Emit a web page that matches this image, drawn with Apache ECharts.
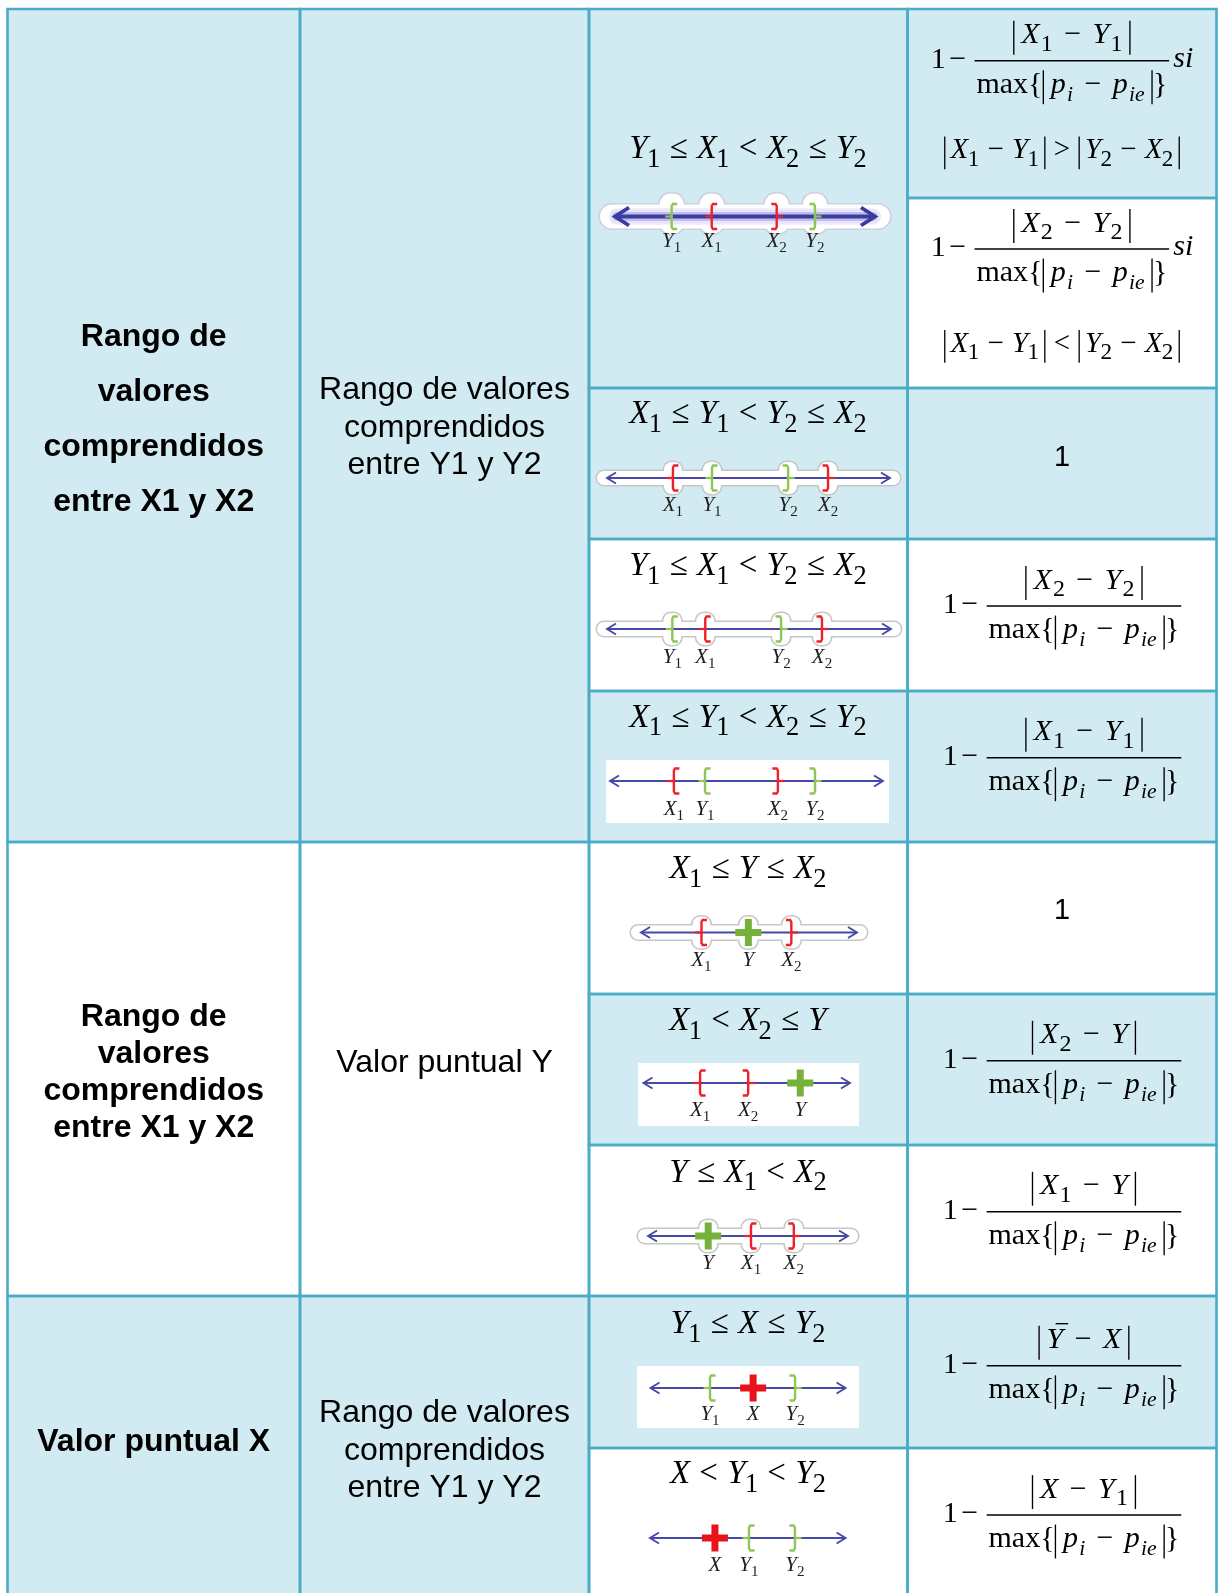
<!DOCTYPE html>
<html><head><meta charset="utf-8">
<script src="https://cdn.jsdelivr.net/npm/echarts@6/dist/echarts.min.js"></script>
<style>html,body{margin:0;padding:0;background:#fff}#c{width:1220px;height:1593px}</style>
</head><body><div id="c"></div>
<script>
// ---------------- DATA ----------------
const groupTitles = [
  ["Rango de", "valores", "comprendidos", "entre X1 y X2"],
  ["Rango de", "valores", "comprendidos", "entre X1 y X2"],
  ["Valor puntual X"]
];
const groupKinds = [
  ["Rango de valores", "comprendidos", "entre Y1 y Y2"],
  ["Valor puntual Y"],
  ["Rango de valores", "comprendidos", "entre Y1 y Y2"]
];
const conditions = [
  "Y_1 ≤ X_1 < X_2 ≤ Y_2",
  "X_1 ≤ Y_1 < Y_2 ≤ X_2",
  "Y_1 ≤ X_1 < Y_2 ≤ X_2",
  "X_1 ≤ Y_1 < X_2 ≤ Y_2",
  "X_1 ≤ Y ≤ X_2",
  "X_1 < X_2 ≤ Y",
  "Y ≤ X_1 < X_2",
  "Y_1 ≤ X ≤ Y_2",
  "X < Y_1 < Y_2"
];
// number-line markers: [label, kind, position on the line (0-100)]
const diagram1 = [["Y_1","[",21.8],["X_1","[",37.2],["X_2","]",62.2],["Y_2","]",76.9]];
const diagram2 = [["X_1","[",23.3],["Y_1","[",37.1],["Y_2","]",64.0],["X_2","]",78.1]];
const diagram3 = [["Y_1","[",23.0],["X_1","[",34.6],["Y_2","]",61.3],["X_2","]",75.7]];
const diagram4 = [["X_1","[",23.4],["Y_1","[",34.8],["X_2","]",61.5],["Y_2","]",75.1]];
const diagram5 = [["X_1","[",28.0],["Y","+",49.7],["X_2","]",69.6]];
const diagram6 = [["X_1","[",27.4],["X_2","]",50.7],["Y","+",75.9]];
const diagram7 = [["Y","+",30.1],["X_1","[",51.5],["X_2","]",72.9]];
const diagram8 = [["Y_1","[",30.5],["X","+",52.6],["Y_2","]",74.1]];
const diagram9 = [["X","+",33.2],["Y_1","[",50.6],["Y_2","]",74.1]];
const diagrams = [diagram1,diagram2,diagram3,diagram4,diagram5,diagram6,diagram7,diagram8,diagram9];
// result cells: numerator, tail word, condition ("1" alone = constant result)
const resultNumerators = ["|X_1 − Y_1|","|X_2 − Y_2|","1","|X_2 − Y_2|","|X_1 − Y_1|","1","|X_2 − Y|","|X_1 − Y|","|Ȳ − X|","|X − Y_1|"];
const resultTails = ["si","si","","","","","","","",""];
const resultConditions = ["|X_1 − Y_1| > |Y_2 − X_2|","|X_1 − Y_1| < |Y_2 − X_2|","","","","","","","",""];
const denominator = "max{|p_i − p_(ie)|}";

// ---------------- LAYOUT ----------------
const W = 1220, H = 1593;
const SERIF = '"Liberation Serif","Times New Roman",serif';
const SANS = '"Liberation Sans",Arial,sans-serif';
const BLUE = '#d2eaf1', BORDER = '#4bacc6';
const COLS = [7.5, 300, 589, 907.5, 1216.5];
const ROWS = [9, 388, 539, 691, 842, 994, 1145, 1296, 1448, 1600];
const SPLIT = 198;
const GROUP_ROWS = [[0,4],[4,7],[7,9]];
const GROUP_SHADE = [1,0,1];
const ROW_SHADE = [1,1,0,1,0,1,0,1,0];
const TITLE_POS = [[345.7,55.2],[1025.8,36.9],[1450.5,0]];
const KIND_POS = [[399.3,37.3],[1071.8,0],[1422.3,37.3]];
const CX1 = 153.75, CX2 = 444.5, CX3 = 748, CX4 = 1062;
const COND_BASE = [158.3,423.3,575,726.7,878.3,1030,1181.7,1333.3,1483.3];
const RES_POS = [[60.7,158.3],[249,351.7],[466],[606],[757.7],[919.3],[1060.7],[1211.7],[1365.7],[1515]];
const DIAG = [
  [615,875,216.5,'glow2',21,30],
  [607,890,478,'glow',21,33],
  [607,891,629,'glow',21,34],
  [610,883,781,'plain',21,34],
  [641,857,932.5,'glow',21,33],
  [643.5,850,1083,'plain',21,33],
  [648,848,1236,'glow',21,33],
  [650.5,845.6,1388,'plain',21,32],
  [650,845.6,1538,'plain',21,33]
];
const BOXES = [[606,760,889,823],[638,1063,859,1126],[637,1366,859,1428]];
const COND_STYLE = {op:0.28, pad:0.2, subGap:-0.02, sub:0.8, lsub:0.72};
const RES_STYLE = {op:0.38, pad:0.25, subGap:0.04, sub:0.8, lsub:0.72};
const LAB_STYLE = {op:0.3, pad:0.2, subGap:0.0, sub:0.72, lsub:0.72};

// ---------------- TEXT HELPERS ----------------
const mctx = document.createElement('canvas').getContext('2d');
function tw(t, font){ mctx.font = font; return mctx.measureText(t).width; }
const offCache = {};
function baseOff(font){
  if (offCache[font] != null) return offCache[font];
  mctx.font = font;
  mctx.textBaseline = 'alphabetic';
  const a = mctx.measureText('Hg').fontBoundingBoxAscent;
  mctx.textBaseline = 'middle';
  const b = mctx.measureText('Hg').fontBoundingBoxAscent;
  mctx.textBaseline = 'alphabetic';
  let v = a - b;
  if (!(v > 0 && v < 100)) v = parseFloat(font.match(/([\d.]+)px/)[1]) * 0.33;
  offCache[font] = v; return v;
}
function parseF(s){
  const atoms = []; let i = 0;
  while (i < s.length){
    const c = s[i];
    if (c === ' '){ i++; continue; }
    if (c === '_'){
      i++; let sub;
      if (s[i] === '('){ const j = s.indexOf(')', i); sub = s.slice(i+1, j); i = j+1; }
      else { sub = s[i]; i++; }
      atoms[atoms.length-1].sub = sub; continue;
    }
    if (c === '|'){ atoms.push({k:'bar'}); i++; continue; }
    if ('≤<>−'.indexOf(c) >= 0){ atoms.push({k:'op', t:c}); i++; continue; }
    if (c === 'Ȳ'){ atoms.push({k:'var', t:'Y', over:true}); i++; continue; }
    if (/[A-Za-z]/.test(c)){
      let j = i; while (j < s.length && /[A-Za-z]/.test(s[j])) j++;
      const w = s.slice(i, j);
      atoms.push({k: w === 'max' ? 'fn' : 'var', t: w}); i = j; continue;
    }
    atoms.push({k:'up', t:c}); i++;
  }
  return atoms;
}
function layoutF(str, size, o){
  const atoms = parseF(str); const items = []; let x = 0, open = false;
  const fIt = `italic ${size}px ${SERIF}`, fUp = `${size}px ${SERIF}`;
  const ss = +(size*o.sub).toFixed(1), ls = +(size*o.lsub).toFixed(1);
  const sIt = `italic ${ls}px ${SERIF}`, sUp = `${ss}px ${SERIF}`;
  const top = -0.75*size, bot = 0.38*size, lw = Math.max(1, size*0.045);
  atoms.forEach(a => {
    if (a.k === 'bar'){
      if (!open){ x += 0.03*size; items.push({line:[x,top,x,bot], lw}); x += o.pad*size; }
      else { x += o.pad*size; items.push({line:[x,top,x,bot], lw}); x += 0.03*size; }
      open = !open; return;
    }
    if (a.k === 'op'){ x += o.op*size; items.push({t:a.t, font:fUp, x, y:0}); x += tw(a.t, fUp) + o.op*size; return; }
    const f = a.k === 'var' ? fIt : fUp;
    items.push({t:a.t, font:f, x, y:0});
    if (a.over) items.push({line:[x+0.3*size, -0.82*size, x+0.72*size, -0.82*size], lw});
    x += tw(a.t, f);
    if (a.sub){
      const sf = /[A-Za-z]/.test(a.sub) ? sIt : sUp;
      if (a.k === 'var') x += o.subGap*size;
      items.push({t:a.sub, font:sf, x, y:0.26*size});
      x += tw(a.sub, sf);
    }
  });
  return {items, width:x};
}
function shift(it, dx, dy){
  return it.line ? {line:[it.line[0]+dx, it.line[1]+dy, it.line[2]+dx, it.line[3]+dy], lw:it.lw}
                 : {t:it.t, font:it.font, x:it.x+dx, y:it.y+dy};
}
function resultItems(num, tail, size){
  const fUp = `${size}px ${SERIF}`, fIt = `italic ${size}px ${SERIF}`;
  const n = layoutF(num, size, RES_STYLE), d = layoutF(denominator, size, RES_STYLE);
  const fw = Math.max(n.width, d.width) + 0.12*size;
  const w1 = tw('1', fUp), wm = tw('−', fUp);
  const leadW = w1 + 0.12*size + wm + 0.28*size;
  const tailW = tail ? 0.14*size + tw(tail, fIt) : 0;
  const total = leadW + fw + tailW, x0 = -total/2, items = [];
  const ly = 0.23*size;
  items.push({t:'1', font:fUp, x:x0, y:ly});
  items.push({t:'−', font:fUp, x:x0+w1+0.12*size, y:ly});
  const fx = x0 + leadW;
  items.push({line:[fx,0,fx+fw,0], lw:size*0.05});
  n.items.forEach(it => items.push(shift(it, fx+(fw-n.width)/2, -0.58*size)));
  d.items.forEach(it => items.push(shift(it, fx+(fw-d.width)/2, 1.07*size)));
  if (tail) items.push({t:tail, font:fIt, x:fx+fw+0.14*size, y:0.2*size});
  return items;
}
function toEls(items, ox, oy, fill){
  return items.map(it => it.line
    ? {type:'line', shape:{x1:ox+it.line[0], y1:oy+it.line[1], x2:ox+it.line[2], y2:oy+it.line[3]}, style:{stroke:fill, lineWidth:it.lw, fill:'none'}}
    : {type:'text', x:ox+it.x, y:oy+it.y-baseOff(it.font), style:{text:it.t, font:it.font, fill:fill, align:'left', verticalAlign:'middle'}});
}

// ---------------- TABLE STRUCTURE ----------------
const CELLS = [];
GROUP_ROWS.forEach((g, i) => { for (let c = 0; c < 2; c++) CELLS.push([COLS[c], ROWS[g[0]], COLS[c+1], ROWS[g[1]], GROUP_SHADE[i]]); });
for (let r = 0; r < 9; r++){
  CELLS.push([COLS[2], ROWS[r], COLS[3], ROWS[r+1], ROW_SHADE[r]]);
  if (r === 0){ CELLS.push([COLS[3], ROWS[0], COLS[4], SPLIT, 1]); CELLS.push([COLS[3], SPLIT, COLS[4], ROWS[1], 0]); }
  else CELLS.push([COLS[3], ROWS[r], COLS[4], ROWS[r+1], ROW_SHADE[r]]);
}
const TEXTS = [];
groupTitles.forEach((g, gi) => g.forEach((s, k) => TEXTS.push([s, CX1, TITLE_POS[gi][0] + k*TITLE_POS[gi][1], `bold 32px ${SANS}`])));
groupKinds.forEach((g, gi) => g.forEach((s, k) => TEXTS.push([s, CX2, KIND_POS[gi][0] + k*KIND_POS[gi][1], `32px ${SANS}`])));

// ---------------- CHART ----------------
const chart = echarts.init(document.getElementById('c'), null, {renderer:'canvas', width:W, height:H});
const grids = [{left:0, top:0, width:W, height:H}];
const xAxes = [{type:'value', min:0, max:W, show:false, gridIndex:0}];
const yAxes = [{type:'value', min:0, max:H, inverse:true, show:false, gridIndex:0}];
DIAG.forEach((d, i) => {
  grids.push({left:d[0], top:d[2]-20, width:d[1]-d[0], height:40});
  xAxes.push({type:'value', min:0, max:100, show:false, gridIndex:i+1});
  yAxes.push({type:'value', min:-1, max:1, show:false, gridIndex:i+1});
});

const series = [];
const base = {type:'custom', coordinateSystem:'cartesian2d', xAxisIndex:0, yAxisIndex:0, silent:true, clip:false};
series.push(Object.assign({}, base, {name:'fills', z:1, data:CELLS.map(c => [c[0], c[1]]),
  renderItem:(p, api) => { const c = CELLS[p.dataIndex]; const a = api.coord([c[0], c[1]]), b = api.coord([c[2], c[3]]);
    return {type:'rect', shape:{x:a[0], y:a[1], width:b[0]-a[0], height:b[1]-a[1]}, style:{fill:c[4] ? BLUE : '#ffffff'}}; }}));
series.push(Object.assign({}, base, {name:'boxes', z:2, data:BOXES.map(c => [c[0], c[1]]),
  renderItem:(p, api) => { const c = BOXES[p.dataIndex]; const a = api.coord([c[0], c[1]]), b = api.coord([c[2], c[3]]);
    return {type:'rect', shape:{x:a[0], y:a[1], width:b[0]-a[0], height:b[1]-a[1]}, style:{fill:'#ffffff'}}; }}));
series.push(Object.assign({}, base, {name:'borders', z:3, data:CELLS.map(c => [c[0], c[1]]),
  renderItem:(p, api) => { const c = CELLS[p.dataIndex]; const a = api.coord([c[0], c[1]]), b = api.coord([c[2], c[3]]);
    return {type:'rect', shape:{x:a[0], y:a[1], width:b[0]-a[0], height:b[1]-a[1]}, style:{fill:'none', stroke:BORDER, lineWidth:2.6}}; }}));
series.push(Object.assign({}, base, {name:'labels', z:6, data:TEXTS.map(t => [t[1], t[2]]),
  renderItem:(p, api) => { const t = TEXTS[p.dataIndex]; const q = api.coord([t[1], t[2]]);
    return {type:'text', x:q[0], y:q[1]-baseOff(t[3]), style:{text:t[0], font:t[3], fill:'#000', align:'center', verticalAlign:'middle'}}; }}));
series.push(Object.assign({}, base, {name:'conditions', z:6, data:conditions.map((c, i) => [CX3, COND_BASE[i]]),
  renderItem:(p, api) => { const f = layoutF(conditions[p.dataIndex], 33, COND_STYLE); const q = api.coord([CX3, COND_BASE[p.dataIndex]]);
    return {type:'group', children:toEls(f.items, q[0]-f.width/2, q[1], '#000')}; }}));
series.push(Object.assign({}, base, {name:'results', z:6, data:resultNumerators.map((c, i) => [CX4, RES_POS[i][0]]),
  renderItem:(p, api) => {
    const i = p.dataIndex, num = resultNumerators[i];
    const q = api.coord([CX4, RES_POS[i][0]]);
    if (num === '1'){
      const font = `29px ${SANS}`;
      return {type:'text', x:q[0], y:q[1]-baseOff(font), style:{text:'1', font, fill:'#000', align:'center', verticalAlign:'middle'}};
    }
    let els = toEls(resultItems(num, resultTails[i], 30), q[0], q[1], '#000');
    if (resultConditions[i]){
      const f = layoutF(resultConditions[i], 29, COND_STYLE); const q2 = api.coord([CX4, RES_POS[i][1]]);
      els = els.concat(toEls(f.items, q2[0]-f.width/2, q2[1], '#000'));
    }
    return {type:'group', children:els};
  }}));

const LINE = '#4848a8';
DIAG.forEach((L, di) => {
  const ax = {xAxisIndex:di+1, yAxisIndex:di+1};
  series.push(Object.assign({}, base, ax, {name:'frame'+di, z:4, data:[[50,0]],
    renderItem:(p, api) => {
      const a = api.coord([0,0]), b = api.coord([100,0]), y = a[1];
      const xs = diagrams[di].map(m => api.coord([m[2],0])[0]);
      const st = L[3], big = st === 'glow2', ch = [];
      if (st === 'glow' || big){
        const lw = big ? 24 : 14, rx = big ? 12 : 9, rt = big ? 23 : 16, rb = big ? 17 : 16;
        const edge = big ? '#cfcfe0' : '#c6c6c6';
        ch.push({type:'line', shape:{x1:a[0]-3, y1:y, x2:b[0]+3, y2:y}, style:{stroke:edge, lineWidth:lw+3, lineCap:'round'}});
        xs.forEach(x => ch.push({type:'rect', shape:{x:x-rx-1.5, y:y-rt-1.5, width:2*rx+3, height:rt+rb+3, r:rx}, style:{fill:edge}}));
        ch.push({type:'line', shape:{x1:a[0]-3, y1:y, x2:b[0]+3, y2:y}, style:{stroke:'#ffffff', lineWidth:lw, lineCap:'round'}});
        xs.forEach(x => ch.push({type:'rect', shape:{x:x-rx, y:y-rt, width:2*rx, height:rt+rb, r:rx-1}, style:{fill:'#ffffff'}}));
      }
      if (big){
        ch.push({type:'line', shape:{x1:a[0]+2, y1:y, x2:b[0]-2, y2:y}, style:{stroke:'rgba(150,140,225,0.22)', lineWidth:16, lineCap:'round'}});
        ch.push({type:'line', shape:{x1:a[0]+2, y1:y, x2:b[0]-2, y2:y}, style:{stroke:'rgba(120,112,215,0.35)', lineWidth:9, lineCap:'round'}});
      }
      const lw2 = big ? 3.8 : 1.9, hl = big ? 14 : 9, hh = big ? 9 : 5.5;
      ch.push({type:'line', shape:{x1:a[0], y1:y, x2:b[0], y2:y}, style:{stroke:big ? '#3c3c9e' : LINE, lineWidth:lw2}});
      ch.push({type:'polyline', shape:{points:[[a[0]+hl, y-hh],[a[0], y],[a[0]+hl, y+hh]]}, style:{stroke:big ? '#3c3c9e' : LINE, lineWidth:lw2, fill:'none'}});
      ch.push({type:'polyline', shape:{points:[[b[0]-hl, y-hh],[b[0], y],[b[0]-hl, y+hh]]}, style:{stroke:big ? '#3c3c9e' : LINE, lineWidth:lw2, fill:'none'}});
      return {type:'group', children:ch};
    }}));
  series.push(Object.assign({}, base, ax, {name:'markers'+di, z:5, data:diagrams[di].map(m => [m[2], 0]),
    renderItem:(p, api) => {
      const m = diagrams[di][p.dataIndex]; const c = api.coord([m[2], 0]); const x = c[0], y = c[1];
      const isX = m[0][0] === 'X', ch = [];
      if (m[1] === '+'){
        const col = isX ? '#e8121b' : '#76b13c';
        ch.push({type:'rect', shape:{x:x-13, y:y-3.5, width:26, height:7}, style:{fill:col}});
        ch.push({type:'rect', shape:{x:x-3.5, y:y-13.5, width:7, height:27}, style:{fill:col}});
      } else {
        const col = isX ? '#ef2029' : '#8cc653';
        const s = m[1] === '[' ? 1 : -1;
        ch.push({type:'polyline', shape:{points:[[x+5.5*s, y-12.5],[x+1.2*s, y-12.5],[x, y-10.5],[x, y+10.5],[x+1.2*s, y+12.5],[x+5.5*s, y+12.5]]}, style:{stroke:col, lineWidth:2.4, fill:'none'}});
        ch.push({type:'line', shape:{x1:x-6.5*s, y1:y, x2:x, y2:y}, style:{stroke:col, lineWidth:2.2}});
      }
      const f = layoutF(m[0], L[4], LAB_STYLE);
      return {type:'group', children:ch.concat(toEls(f.items, x-f.width/2, y+L[5], '#1e1e1e'))};
    }}));
});

chart.setOption({animation:false, backgroundColor:'#ffffff', grid:grids, xAxis:xAxes, yAxis:yAxes, series});
</script></body></html>
